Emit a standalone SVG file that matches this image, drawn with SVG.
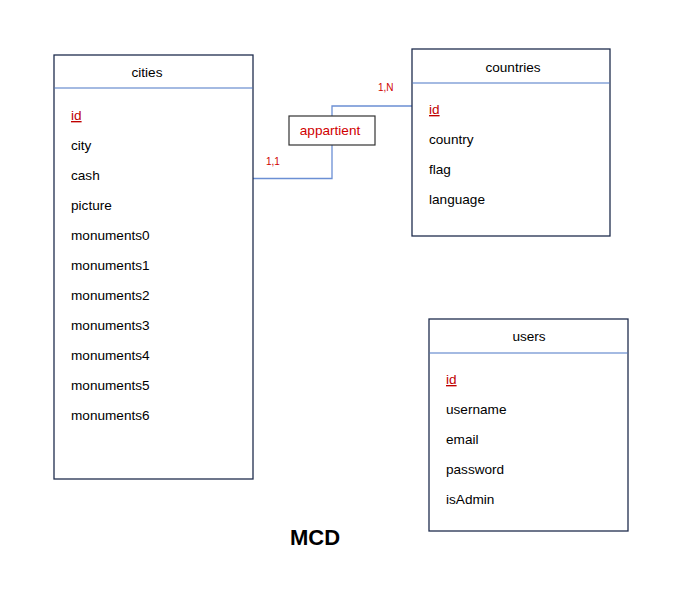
<svg xmlns="http://www.w3.org/2000/svg" width="689" height="616" viewBox="0 0 689 616">
<style>
.box{fill:#fff;stroke:#1f2d4e;stroke-width:1.3}
.div{stroke:#4a76c6;stroke-width:1.2}
text{font-family:"Liberation Sans",Arial,sans-serif;font-size:13.6px;fill:#000}
.hd{text-anchor:middle}
.pk{fill:#c00000;text-decoration:underline}
.card{fill:#d00000;font-size:10px}
.conn{fill:none;stroke:#6b8fd4;stroke-width:1.3}
</style>
<rect width="689" height="616" fill="#fff"/>
<g id="connectors">
<polyline class="conn" points="253,178.5 332,178.5 332,145"/>
<polyline class="conn" points="332,116 332,106 412,106"/>
<text class="card" x="266" y="165">1,1</text>
<text class="card" x="378" y="91">1,N</text>
</g>
<g id="cities">
<rect class="box" x="54" y="55" width="199" height="424"/>
<line class="div" x1="54.5" y1="88" x2="252.5" y2="88"/>
<text class="hd" x="147" y="77">cities</text>
<text class="pk" x="71" y="120">id</text>
<text x="71" y="150">city</text>
<text x="71" y="180">cash</text>
<text x="71" y="210">picture</text>
<text x="71" y="240">monuments0</text>
<text x="71" y="270">monuments1</text>
<text x="71" y="300">monuments2</text>
<text x="71" y="330">monuments3</text>
<text x="71" y="360">monuments4</text>
<text x="71" y="390">monuments5</text>
<text x="71" y="420">monuments6</text>
</g>
<g id="appartient">
<rect x="289" y="116" width="86" height="29" fill="#fff" stroke="#333" stroke-width="1.2"/>
<text x="330" y="135" text-anchor="middle" style="fill:#d00000">appartient</text>
</g>
<g id="countries">
<rect class="box" x="412" y="49" width="198" height="187"/>
<line class="div" x1="412.5" y1="83" x2="609.5" y2="83"/>
<text class="hd" x="513" y="72">countries</text>
<text class="pk" x="429" y="114">id</text>
<text x="429" y="144">country</text>
<text x="429" y="174">flag</text>
<text x="429" y="204">language</text>
</g>
<g id="users">
<rect class="box" x="429" y="319" width="199" height="212"/>
<line class="div" x1="429.5" y1="353" x2="627.5" y2="353"/>
<text class="hd" x="529" y="341">users</text>
<text class="pk" x="446" y="384">id</text>
<text x="446" y="414">username</text>
<text x="446" y="444">email</text>
<text x="446" y="474">password</text>
<text x="446" y="504">isAdmin</text>
</g>
<text x="315" y="545" text-anchor="middle" style="font-size:22px;font-weight:bold">MCD</text>
</svg>
